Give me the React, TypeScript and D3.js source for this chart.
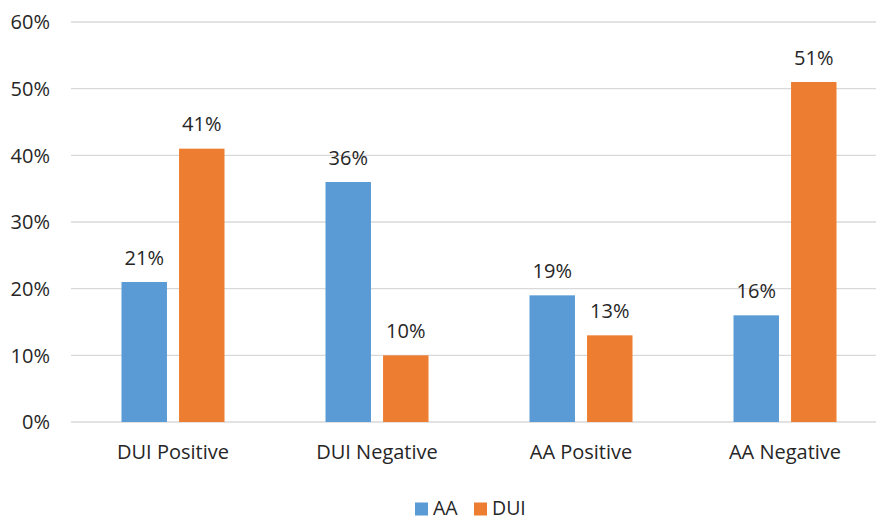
import React from 'react';
import * as d3 from 'd3';

const categories = ['DUI Positive', 'DUI Negative', 'AA Positive', 'AA Negative'];
const seriesNames = ['AA', 'DUI'];
const aaValues = [21, 36, 19, 16];
const duiValues = [41, 10, 13, 51];
const yTicks = [0, 10, 20, 30, 40, 50, 60];

const colors = ['#5B9BD5', '#ED7D31'];
const font = '"Open Sans", sans-serif';
const fontSize = 20;
const textColor = '#262626';

export default function App() {
  const width = 876;
  const height = 520;
  const margin = { top: 22, right: -11, bottom: 98, left: 71 };

  const x = d3
    .scaleBand()
    .domain(categories)
    .range([margin.left, width - margin.right]);

  const inner = d3
    .scaleBand()
    .domain(seriesNames)
    .range([x.bandwidth() / 2 - 51.5, x.bandwidth() / 2 + 51.5])
    .paddingInner(0.21);

  const y = d3
    .scaleLinear()
    .domain([0, 60])
    .range([height - margin.bottom, margin.top]);

  const series = [aaValues, duiValues];

  return (
    <svg
      width={width}
      height={height}
      style={{ position: 'absolute', left: 0, top: 0, background: '#fff' }}
    >
      <g className="grid">
        {yTicks.map((t) => (
          <line
            key={t}
            x1={margin.left}
            x2={width - margin.right}
            y1={y(t)}
            y2={y(t)}
            stroke="#D9D9D9"
            strokeWidth={1.3}
          />
        ))}
      </g>
      <g className="yAxis" fontFamily={font} fontSize={fontSize} fill={textColor}>
        {yTicks.map((t) => (
          <text key={t} x={50} y={y(t)} dy="0.36em" textAnchor="end">
            {t}%
          </text>
        ))}
      </g>
      <g className="bars">
        {categories.map((c, i) =>
          seriesNames.map((s, j) => {
            const v = series[j][i];
            const bx = (x(c) || 0) + (inner(s) || 0);
            return (
              <g key={c + s}>
                <rect
                  x={bx}
                  y={y(v)}
                  width={inner.bandwidth()}
                  height={y(0) - y(v)}
                  fill={colors[j]}
                />
                <text
                  x={bx + inner.bandwidth() / 2}
                  y={y(v) - 17.5}
                  textAnchor="middle"
                  fontFamily={font}
                  fontSize={fontSize}
                  fill={textColor}
                >
                  {v}%
                </text>
              </g>
            );
          })
        )}
      </g>
      <g className="xAxis" fontFamily={font} fontSize={fontSize} fill={textColor}>
        {categories.map((c) => (
          <text key={c} x={(x(c) || 0) + x.bandwidth() / 2} y={459} textAnchor="middle">
            {c}
          </text>
        ))}
      </g>
      <g className="legend" fontFamily={font} fontSize={19.5} fill={textColor}>
        {seriesNames.map((s, j) => {
          const lx = j === 0 ? 415 : 474;
          return (
            <g key={s}>
              <rect x={lx} y={502.5} width={13} height={13} fill={colors[j]} />
              <text x={lx + 18} y={514.5}>
                {s}
              </text>
            </g>
          );
        })}
      </g>
    </svg>
  );
}
